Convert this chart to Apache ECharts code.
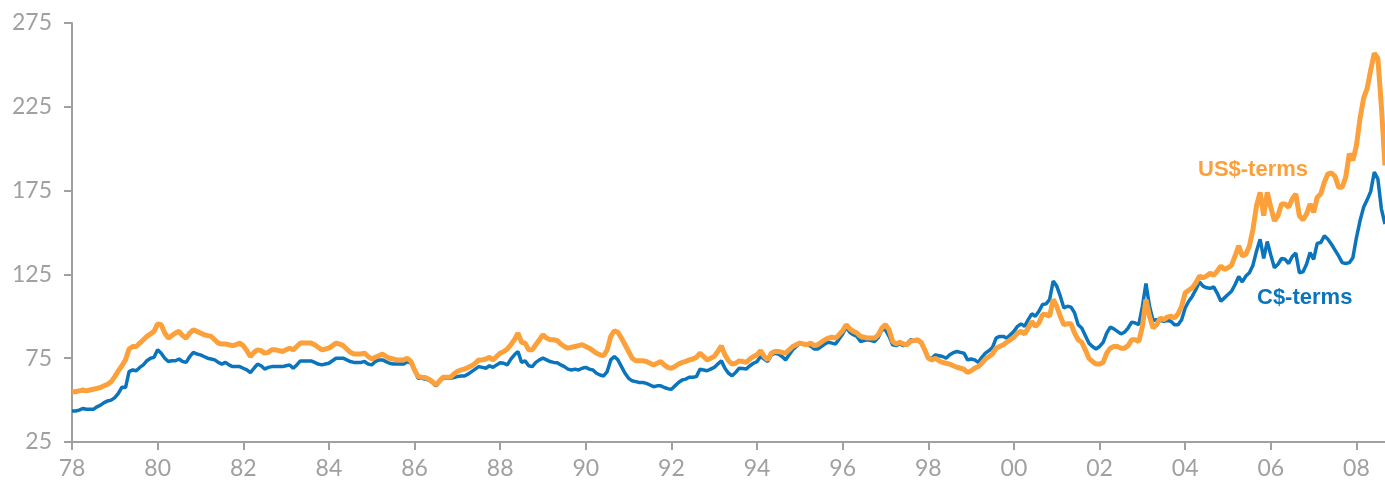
<!DOCTYPE html>
<html>
<head>
<meta charset="utf-8">
<script src="https://cdn.jsdelivr.net/npm/echarts@6/dist/echarts.min.js"></script>
<style>
  html, body { margin: 0; padding: 0; background: #fff; }
  #chart { width: 1385px; height: 483px; }
</style>
</head>
<body>
<div id="chart"></div>
<script>
// monthly index, Jan 1978 .. Sep 2008
const startYear = 1978
const usd = [
  55, 55, 55.5, 56, 55.5, 56, 56.5, 57, 57.5, 58.5, 59.5, 61,            // 78
  64, 67.5, 70.5, 74, 80.5, 82, 82, 84, 86, 88, 89.5, 91,                // 79
  95.5, 95, 90, 87, 88.5, 90, 91, 88.5, 87, 90, 92, 91,                  // 80
  90, 89, 88.5, 88, 86, 84, 83.5, 83.5, 83, 82.5, 83, 84,                // 81
  82.5, 79.5, 76, 78.5, 80, 79.5, 78, 78.5, 80, 80, 79.5, 79,            // 82
  80, 81, 80, 82, 84, 84, 84, 84, 83, 81.5, 80, 80.5,                    // 83
  81, 82.5, 84, 83.5, 82.5, 80.5, 78.5, 77.5, 77.5, 77.5, 78, 76,        // 84
  74.5, 75.5, 76.5, 77.5, 76, 75, 74.5, 74, 74, 74, 75, 73,              // 85
  68, 64, 63.6, 63.5, 62.5, 61, 59, 61.5, 63.6, 63.6, 63.6, 65.5,        // 86
  67, 68, 68.5, 69.5, 70.5, 72, 74, 74, 74.5, 75.5, 74, 76,              // 87
  78, 79, 80.5, 83, 86, 90, 84.5, 84, 80, 80, 83, 86,                    // 88
  89, 87, 86, 86, 85.5, 83.5, 82, 81, 81.5, 82, 82.5, 83,                // 89
  82, 81, 79.5, 78, 77, 76.5, 80, 88, 91.4, 90.5, 87, 83,                // 90
  79, 75, 73.5, 73.5, 73.5, 73, 72, 71, 72, 73, 71, 69.5,                // 91
  69, 70, 71.5, 72.5, 73, 74, 74.5, 75.5, 78, 76, 74, 75,                // 92
  76, 79, 82.3, 77, 73.5, 71.5, 72, 73.4, 73, 72.5, 74.5, 76,            // 93
  77, 79.5, 76, 74, 78, 79, 79, 78.5, 78, 80, 82, 83,                    // 94
  84, 83.5, 83, 84, 82.5, 83, 84.5, 86, 87, 87.5, 87, 89,                // 95
  91.5, 95, 92.5, 91, 90, 88, 87.5, 87, 87, 87, 89, 93,                  // 96
  95, 92, 85, 83.5, 84.5, 83.5, 83, 85, 85.5, 86, 84.5, 80,              // 97
  75, 74, 75, 73.5, 72.5, 72, 71.5, 70.5, 69.6, 69, 68.4, 66.5,          // 98
  67.5, 69, 70, 72, 74.5, 76, 77.5, 81, 82, 83, 84.5, 86,                // 99
  87.5, 90, 91, 89.5, 93, 97, 94, 96, 101, 101, 100, 110,                // 00
  106, 100, 95, 95.5, 95.5, 90, 86, 84.5, 80, 75, 73, 71.5,              // 01
  71.5, 72.5, 78, 81, 82, 82, 81, 81, 82.5, 86, 86, 85,                  // 02
  93.8, 110, 100, 93, 95, 99, 98, 99.5, 100, 99, 101.5, 106,             // 03
  114, 115.5, 117, 120, 124, 123, 124, 125.7, 124.5, 127, 130, 128,      // 04
  129, 130.5, 136, 142, 136, 137, 142, 152, 166, 174, 160, 174,          // 05
  165, 157, 160, 167, 167, 165, 170, 173, 160, 157.5, 161, 167,          // 06
  162, 171, 173, 180, 185, 185.5, 183.5, 177, 177, 183, 197, 193,        // 07
  202, 218, 230, 236, 247, 257, 254, 225, 190                            // 08
]
const cad = [
  43.5, 43.5, 44, 45, 44.5, 44.5, 44.5, 46, 47, 48.5, 49.5, 50,          // 78
  51.5, 54, 57.7, 57.5, 67, 68, 67.5, 69.5, 71, 73.5, 75, 75.5,          // 79
  80, 78, 75, 73, 73.5, 73.5, 74.5, 73, 72.5, 76, 78.5, 77.5,            // 80
  77, 76, 75, 74.5, 74, 72.5, 71.5, 72.5, 71, 70, 70, 70,                // 81
  69, 68, 66.4, 69, 71.5, 70.5, 68.5, 69.5, 70, 70, 70, 70,              // 82
  70.5, 71, 69, 71, 73.4, 73.4, 73.4, 73.4, 72.5, 71.5, 71, 71.5,        // 83
  72, 73.5, 75, 75, 75, 74, 73, 72.5, 72.5, 72.5, 73, 71.5,              // 84
  71, 73, 74, 74, 73, 72, 71.5, 71.5, 71.5, 71.5, 73, 72,                // 85
  68, 63, 63, 62.5, 62, 60.5, 58.5, 61, 63, 63, 63, 63.5,                // 86
  64, 64.4, 64.4, 65.5, 67, 68.5, 70, 69.5, 69, 70.5, 69.5, 71,          // 87
  72.3, 72, 71, 74.5, 77, 79, 72.5, 73.4, 70.5, 70, 72.5, 74,            // 88
  75, 74, 73, 72.5, 72.3, 71, 70, 68.5, 68, 68.5, 68, 69,                // 89
  69.5, 68.5, 68, 66, 65, 64.4, 67, 74, 76, 74, 70, 66,                  // 90
  63, 61.5, 61, 60.5, 60.5, 60, 59, 58, 58.5, 58.5, 57.5, 56.8,          // 91
  56.4, 58.5, 60.5, 62, 62.5, 63.6, 63.6, 64, 68.4, 68, 67.5, 68.5,      // 92
  69.5, 71.5, 73.4, 69, 66, 64.5, 66.5, 69, 68.8, 68.6, 70.5, 72,        // 93
  73, 76, 74.5, 73, 77, 78, 77.5, 76, 74, 77, 80, 82,                    // 94
  84, 83.5, 83, 82.3, 80.5, 80.5, 82, 83.5, 84.5, 84, 83.5, 86.5,        // 95
  89.5, 93.5, 90.5, 89, 88, 85, 85.5, 86, 85.5, 85, 87.5, 92,            // 96
  92, 88, 83, 82.5, 83.5, 82.5, 83.5, 86, 85.5, 85.5, 84, 80,            // 97
  75, 75, 77, 76.5, 76, 75, 77, 78.3, 79, 78.5, 78, 74,                  // 98
  74.5, 74, 72.5, 75.5, 78, 79.5, 81.5, 87, 88, 88, 87, 89,              // 99
  91, 94, 95.5, 94, 98, 101.5, 100, 103, 107, 107.4, 110, 121,           // 00
  118, 112, 105, 106, 105.5, 102, 95, 93, 88.5, 84, 82, 80.5,            // 01
  82, 84.5, 90, 93.5, 92.5, 91, 89.5, 90.5, 93, 96.5, 96, 95,            // 02
  105.8, 119.5, 106, 97.5, 98, 97.5, 97, 97.5, 97, 95, 95, 98,           // 03
  105, 109, 112, 116, 120.5, 118, 117, 116.7, 117.5, 113.7, 109, 111,    // 04
  113, 115, 119, 123.7, 120.5, 124, 126, 130.5, 139, 146, 134.5, 144.6,  // 05
  136.5, 129, 131, 134.5, 134, 131.5, 135.7, 137.7, 126, 126.5, 131, 138,// 06
  134, 143.5, 144, 148, 146, 143, 139.5, 136, 132, 131.5, 132, 135,      // 07
  147, 157, 165, 169.5, 174.5, 186, 182, 164, 155                        // 08
]
const yearLabels = ['78', '80', '82', '84', '86', '88', '90', '92', '94', '96', '98', '00', '02', '04', '06', '08']

const months = []
for (let i = 0; i < usd.length; i++) {
  const y = startYear + Math.floor(i / 12)
  const m = (i % 12) + 1
  months.push(y + '-' + (m < 10 ? '0' + m : m))
}

const orange = '#FBA03A'
const blue = '#0A74BC'
const grey = '#a0a0a0'

// show a tick/label on every January of an even year
const isLabelMonth = (idx, val) => yearLabels.indexOf(val.slice(2, 4)) >= 0 && val.slice(5) === '01'

const chart = echarts.init(document.getElementById('chart'))
chart.setOption({
  animation: false,
  grid: { left: 72, right: 0, top: 23, bottom: 41 },
  xAxis: {
    type: 'category',
    data: months,
    boundaryGap: false,
    axisLine: { lineStyle: { color: grey, width: 2 } },
    axisTick: { interval: isLabelMonth, length: 8, lineStyle: { color: grey, width: 2 } },
    axisLabel: {
      interval: isLabelMonth,
      formatter: v => v.slice(2, 4),
      color: grey, fontFamily: 'Lato', fontSize: 23, margin: 15
    },
    splitLine: { show: false }
  },
  yAxis: {
    type: 'value',
    min: 25, max: 275, interval: 50,
    axisLine: { show: true, lineStyle: { color: grey, width: 2 } },
    axisTick: { show: true, length: 8, lineStyle: { color: grey, width: 2 } },
    axisLabel: { color: grey, fontFamily: 'Lato', fontSize: 23, margin: 20 },
    splitLine: { show: false }
  },
  series: [
    {
      name: 'C$-terms', type: 'line', data: cad, showSymbol: false,
      lineStyle: { color: blue, width: 3.5 }, z: 2
    },
    {
      name: 'US$-terms', type: 'line', data: usd, showSymbol: false,
      lineStyle: { color: orange, width: 5 }, z: 3
    }
  ],
  graphic: [
    { type: 'text', x: 1198, y: 170, style: { text: 'US$-terms', fill: orange, font: 'bold 22px "Liberation Sans"', verticalAlign: 'middle' } },
    { type: 'text', x: 1257, y: 298, style: { text: 'C$-terms', fill: blue, font: 'bold 22px "Liberation Sans"', verticalAlign: 'middle' } }
  ]
})
</script>
</body>
</html>
